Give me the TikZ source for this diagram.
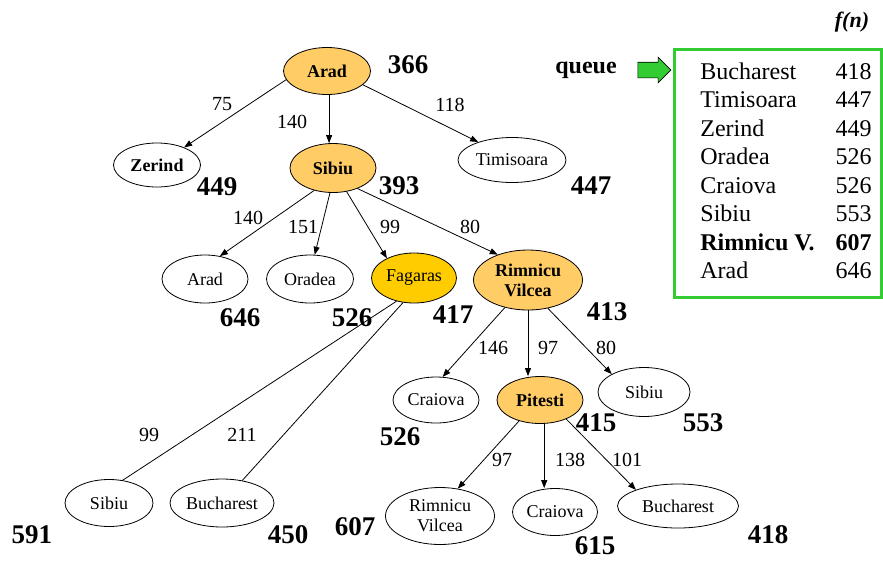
\documentclass[tikz,border=0pt]{standalone}
\usepackage{fontspec}
\setmainfont{Liberation Serif}
\usepackage{tikz}
\usetikzlibrary{shapes.geometric}
\usetikzlibrary{shapes.arrows}
\usetikzlibrary{arrows.meta}
\usetikzlibrary{calc}

\definecolor{openfill}{HTML}{FFCC66}
\definecolor{fagfill}{HTML}{FFCC00}
\definecolor{queuegreen}{HTML}{33CC33}

\begin{document}
\begin{tikzpicture}[x=1pt,y=-1pt,line width=0.8pt,
    city/.style={ellipse,draw,inner sep=0pt,align=center,
      font=\fontsize{18}{20}\selectfont},
    expanded/.style={city,fill=openfill,font=\fontsize{18}{20}\selectfont\bfseries},
    cost/.style={font=\fontsize{27}{28}\selectfont\bfseries},
    dist/.style={font=\fontsize{20}{22}\selectfont},
    qtext/.style={inner sep=0pt,font=\fontsize{24}{26}\selectfont},
    arr/.style={-{Triangle[length=8pt,width=6pt]}}]
    \useasboundingbox (0,0) rectangle (883,560);

    % level 0 and 1
    \node[expanded,minimum width=87,minimum height=47] (arad) at (327,71) {Arad};
    \node[city,font=\fontsize{18}{20}\selectfont\bfseries,minimum width=87,minimum height=44] (zer) at (157,165) {Zerind};
    \node[expanded,minimum width=86,minimum height=49] (sib) at (333,168) {Sibiu};
    \node[city,minimum width=108,minimum height=45] (tim) at (512,160) {Timisoara};

    % level 2
    \node[city,minimum width=86,minimum height=48] (arad2) at (205,279) {Arad};
    \node[city,minimum width=87,minimum height=48] (ora) at (310,279) {Oradea};
    \node[city,fill=fagfill,minimum width=85,minimum height=50] (fag) at (414,278) {Fagaras};
    \node[expanded,minimum width=109,minimum height=60] (rv) at (528,280) {Rimnicu\\Vilcea};

    % level 3
    \node[city,minimum width=86,minimum height=46] (cra) at (436,400) {Craiova};
    \node[expanded,minimum width=86,minimum height=47] (pit) at (540,400) {Pitesti};
    \node[city,minimum width=92,minimum height=49] (sib3) at (644,392) {Sibiu};
    \node[city,minimum width=88,minimum height=47] (sib5) at (109,503) {Sibiu};
    \node[city,minimum width=104,minimum height=48] (bu5) at (222,503) {Bucharest};

    % level 4
    \node[city,minimum width=109,minimum height=57] (rv4) at (440,516) {Rimnicu\\Vilcea};
    \node[city,minimum width=85,minimum height=47] (cra4) at (555,512) {Craiova};
    \node[city,minimum width=121,minimum height=44] (bu4) at (678,506) {Bucharest};

    % edges
    \draw[arr] (arad.192) -- (zer.33);
    \draw[arr] (arad.-85) -- (arad.-85 |- sib.north);
    \draw[arr] (arad.-21) -- (tim.152);
    \draw[arr] (sib.230) -- (arad2.57);
    \draw[arr] (sib.263) -- (ora.79);
    \draw[arr] (sib.300) -- (fag.144);
    \draw[arr] (sib.320) -- (rv.140);
    \draw (fag.233) -- (sib5.59);
    \draw (fag.246) -- (bu5.48);
    \draw[arr] (rv.230) -- (cra.74);
    \draw[arr] (rv.south) -- (rv.south |- pit.north);
    \draw[arr] (rv.305) -- (sib3.151);
    \draw[arr] (pit.225) -- (rv4.57);
    \draw[arr] (pit.-80) -- (pit.-80 |- cra4.north);
    \draw[arr] (pit.324) -- (bu4.159);

    % path costs
    \node[dist] (d1) at (222,104) {75};
    \node[dist] (d2) at (292,122) {140};
    \node[dist] (d3) at (450,105) {118};
    \node[dist] (d4) at (248,218) {140};
    \node[dist] (d5) at (303,227) {151};
    \node[dist] (d6) at (390,227) {99};
    \node[dist] (d7) at (470,227) {80};
    \node[dist] (d8) at (493,348) {146};
    \node[dist] (d9) at (548,348) {97};
    \node[dist] (d10) at (606,348) {80};
    \node[dist] (d11) at (502,460) {97};
    \node[dist] (d12) at (570,460) {138};
    \node[dist] (d13) at (627,460) {101};
    \node[dist] (d14) at (149,435) {99};
    \node[dist] (d15) at (242,435) {211};

    % f values
    \node[cost] (f1) at (408,65) {366};
    \node[cost] (f2) at (217,187) {449};
    \node[cost] (f3) at (399,186) {393};
    \node[cost] (f4) at (591,186) {447};
    \node[cost] (f5) at (240,318) {646};
    \node[cost] (f6) at (352,318) {526};
    \node[cost] (f7) at (453,315) {417};
    \node[cost] (f8) at (607,312) {413};
    \node[cost] (f9) at (400,437) {526};
    \node[cost] (f10) at (596,423) {415};
    \node[cost] (f11) at (703,423) {553};
    \node[cost] (f12) at (355,527) {607};
    \node[cost] (f13) at (595,546) {615};
    \node[cost] (f14) at (768,535) {418};
    \node[cost] (f15) at (32,535) {591};
    \node[cost] (f16) at (288,535) {450};

    % queue
    \node[font=\fontsize{22}{24}\selectfont\bfseries\itshape] (fn) at (852,22) {f(n)};
    \node[font=\fontsize{24}{26}\selectfont\bfseries] (qlabel) at (586,70) {queue};
    \node[single arrow,draw=black,fill=queuegreen,line width=0.6pt,
      inner xsep=0pt,inner ysep=7.5pt,single arrow head extend=5pt,
      minimum height=33] (qarrow) at (650.5,70) {};
    \node[draw=queuegreen,line width=3pt,minimum width=207,minimum height=248,inner sep=0pt] (qbox) at (777.5,173) {};
    \foreach \name/\val [count=\i] in {Bucharest/418,Timisoara/447,Zerind/449,
        Oradea/526,Craiova/526,Sibiu/553,{\bfseries Rimnicu V.}/{\bfseries 607},Arad/646} {
      \node[qtext,anchor=base west] (qn\i) at (700,79+28.5*\i-28.5) {\name};
      \node[qtext,anchor=base east] (qv\i) at (872,79+28.5*\i-28.5) {\val};
    }
\end{tikzpicture}
\end{document}
